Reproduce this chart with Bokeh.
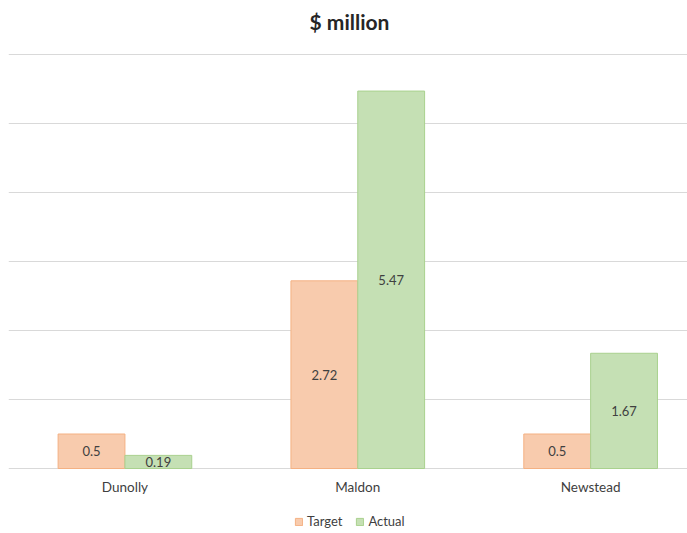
from bokeh.plotting import figure
from bokeh.models import Range1d, FixedTicker, Legend, LegendItem, ColumnDataSource, Label
from bokeh.core.properties import value
from bokeh.embed import file_html
from bokeh.resources import INLINE

categories = ["Dunolly", "Maldon", "Newstead"]
target = [0.5, 2.72, 0.5]
actual = [0.19, 5.47, 1.67]
series_names = ["Target", "Actual"]
title_text = "$ million"
grid_ticks = [0, 1, 2, 3, 4, 5, 6]

FONT = "Lato"
bar_w = 0.287
off = bar_w / 2
xs = list(range(len(categories)))
PX = 414 / 6.0  # pixels per unit

p = figure(width=687, height=533, output_backend="svg", toolbar_location=None,
           x_range=Range1d(-0.5, 2.416), y_range=Range1d(-65 / PX, 468 / PX),
           min_border_left=8, min_border_right=0, min_border_top=0, min_border_bottom=0)
p.outline_line_color = None
p.xaxis.visible = False
p.yaxis.visible = False
p.ygrid.ticker = FixedTicker(ticks=grid_ticks)
p.ygrid.grid_line_color = "#d9d9d9"
p.xgrid.grid_line_color = None

p.add_layout(Label(x=341, y=512, x_units="screen", y_units="screen", text=title_text,
                   text_align="center", text_baseline="middle", text_font=FONT,
                   text_font_size="21px", text_font_style="bold", text_color="#262626"))

src_t = ColumnDataSource(dict(x=[x - off for x in xs], top=target, ym=[v / 2 for v in target],
                              lab=[str(v) for v in target]))
src_a = ColumnDataSource(dict(x=[x + off for x in xs], top=actual, ym=[v / 2 for v in actual],
                              lab=[str(v) for v in actual]))
src_c = ColumnDataSource(dict(x=xs, y=[0] * len(xs), lab=categories))

rt = p.vbar(x="x", top="top", width=bar_w, bottom=0, source=src_t,
            fill_color="#F8CBAD", line_color="#F4B183", line_width=1)
ra = p.vbar(x="x", top="top", width=bar_w, bottom=0, source=src_a,
            fill_color="#C5E0B4", line_color="#A9D18E", line_width=1)

for s in (src_t, src_a):
    p.text(x="x", y="ym", text="lab", source=s, text_align="center", text_baseline="middle",
           text_font=value(FONT), text_font_size="13px", text_color="#404040")

p.text(x="x", y="y", text="lab", source=src_c, y_offset=18, text_align="center",
       text_baseline="middle", text_font=value(FONT), text_font_size="13.5px",
       text_color="#404040")

legend = Legend(items=[LegendItem(label=series_names[0], renderers=[rt]),
                       LegendItem(label=series_names[1], renderers=[ra])],
                orientation="horizontal", location=(286, 4),
                label_text_font=FONT, label_text_font_size="13px", label_text_color="#404040",
                glyph_width=9, glyph_height=9, spacing=13, label_standoff=4,
                border_line_color=None, background_fill_alpha=0, padding=0, margin=0)
p.add_layout(legend)

open("out.html", "w").write(file_html(p, INLINE))
